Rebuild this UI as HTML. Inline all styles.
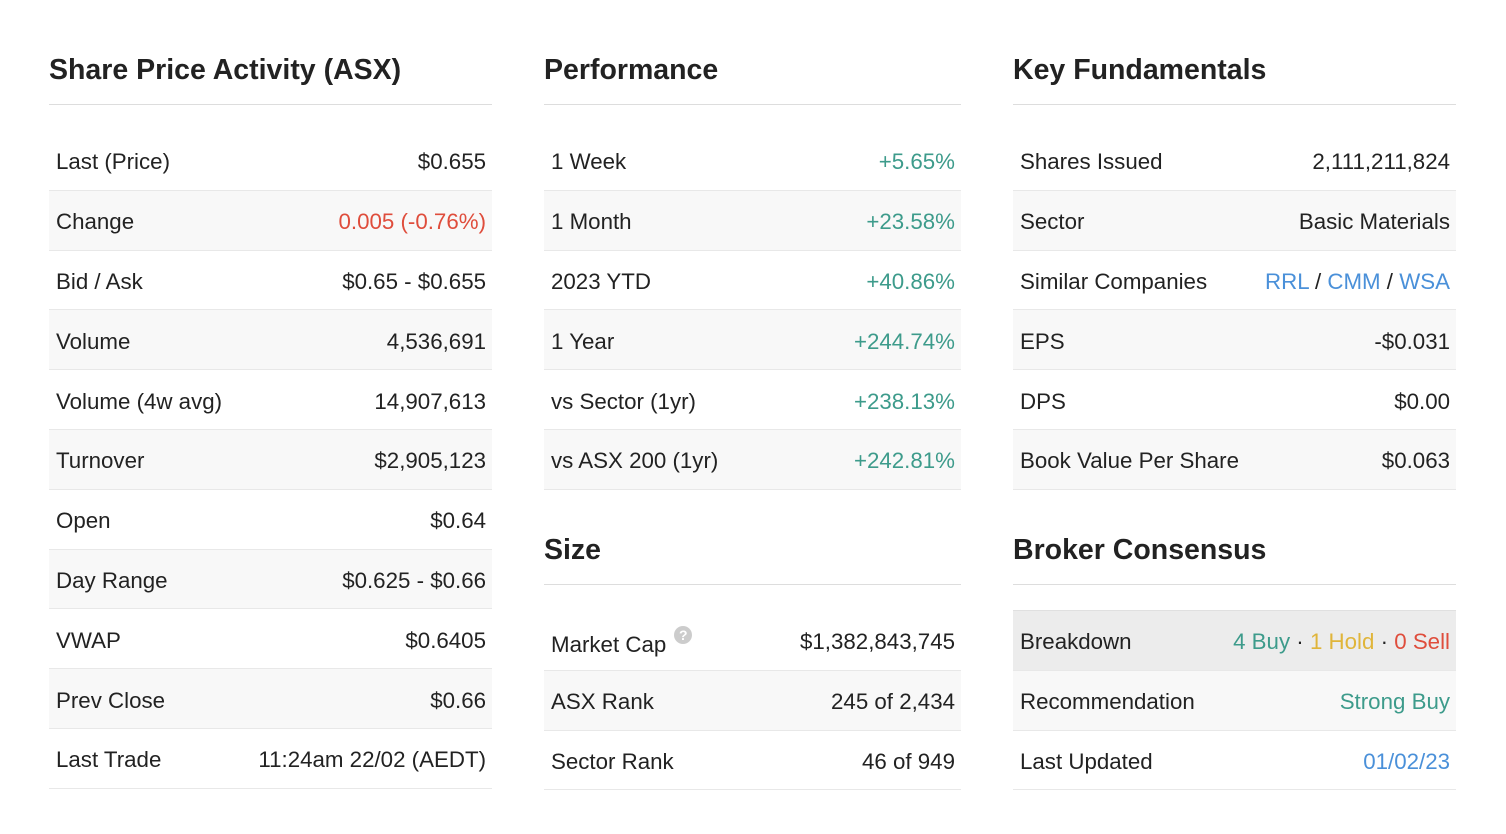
<!DOCTYPE html>
<html><head><meta charset="utf-8"><style>
body{margin:0;width:1506px;height:834px;background:#fff;font-family:"Liberation Sans",sans-serif;color:#222;position:relative;overflow:hidden}
.h{position:absolute;font-weight:bold;font-size:28.5px;color:#222;border-bottom:1px solid #ddd;box-sizing:border-box;padding-top:1px}
.t{position:absolute}
.r{border-bottom:1px solid #e8e8e8;display:flex;justify-content:space-between;align-items:center;padding:4px 6px 0 7px;box-sizing:border-box;height:59.8px;font-size:22.3px}
.r:nth-child(even){background:#f8f8f8}
.g{color:#3d9b8b}.red{color:#df4d3c}.b{color:#4a90d9}.y{color:#e0b53a}
.q{display:inline-block;width:18px;height:18px;border-radius:50%;background:#ccc;color:#fff;font-size:14px;text-align:center;line-height:18px;font-weight:bold;vertical-align:12px;margin-left:8px}
</style></head><body>
<div class="h" style="left:49px;top:53px;width:443px;height:52px">Share Price Activity (ASX)</div>
<div class="t" style="left:49px;top:131px;width:443px">
<div class="r"><span>Last (Price)</span><span>$0.655</span></div>
<div class="r"><span>Change</span><span class="red">0.005 (-0.76%)</span></div>
<div class="r"><span>Bid / Ask</span><span>$0.65 - $0.655</span></div>
<div class="r"><span>Volume</span><span>4,536,691</span></div>
<div class="r"><span>Volume (4w avg)</span><span>14,907,613</span></div>
<div class="r"><span>Turnover</span><span>$2,905,123</span></div>
<div class="r"><span>Open</span><span>$0.64</span></div>
<div class="r"><span>Day Range</span><span>$0.625 - $0.66</span></div>
<div class="r"><span>VWAP</span><span>$0.6405</span></div>
<div class="r"><span>Prev Close</span><span>$0.66</span></div>
<div class="r"><span>Last Trade</span><span>11:24am 22/02 (AEDT)</span></div>
</div>

<div class="h" style="left:544px;top:53px;width:417px;height:52px">Performance</div>
<div class="t" style="left:544px;top:131px;width:417px">
<div class="r"><span>1 Week</span><span class="g">+5.65%</span></div>
<div class="r"><span>1 Month</span><span class="g">+23.58%</span></div>
<div class="r"><span>2023 YTD</span><span class="g">+40.86%</span></div>
<div class="r"><span>1 Year</span><span class="g">+244.74%</span></div>
<div class="r"><span>vs Sector (1yr)</span><span class="g">+238.13%</span></div>
<div class="r"><span>vs ASX 200 (1yr)</span><span class="g">+242.81%</span></div>
</div>

<div class="h" style="left:544px;top:533px;width:417px;height:52px">Size</div>
<div class="t" style="left:544px;top:611px;width:417px">
<div class="r"><span>Market Cap<span class="q">?</span></span><span>$1,382,843,745</span></div>
<div class="r"><span>ASX Rank</span><span>245 of 2,434</span></div>
<div class="r"><span>Sector Rank</span><span>46 of 949</span></div>
</div>

<div class="h" style="left:1013px;top:53px;width:443px;height:52px">Key Fundamentals</div>
<div class="t" style="left:1013px;top:131px;width:443px">
<div class="r"><span>Shares Issued</span><span>2,111,211,824</span></div>
<div class="r"><span>Sector</span><span>Basic Materials</span></div>
<div class="r"><span>Similar Companies</span><span><span class="b">RRL</span> / <span class="b">CMM</span> / <span class="b">WSA</span></span></div>
<div class="r"><span>EPS</span><span>-$0.031</span></div>
<div class="r"><span>DPS</span><span>$0.00</span></div>
<div class="r"><span>Book Value Per Share</span><span>$0.063</span></div>
</div>

<div class="h" style="left:1013px;top:533px;width:443px;height:52px">Broker Consensus</div>
<div class="t" style="left:1013px;top:610px;width:443px;border-top:1px solid #e0e0e0">
<div class="r" style="background:#ececec"><span>Breakdown</span><span><span class="g">4 Buy</span> · <span class="y">1 Hold</span> · <span class="red">0 Sell</span></span></div>
<div class="r"><span>Recommendation</span><span class="g">Strong Buy</span></div>
<div class="r" style="background:#fff"><span>Last Updated</span><span class="b">01/02/23</span></div>
</div>
</body></html>
